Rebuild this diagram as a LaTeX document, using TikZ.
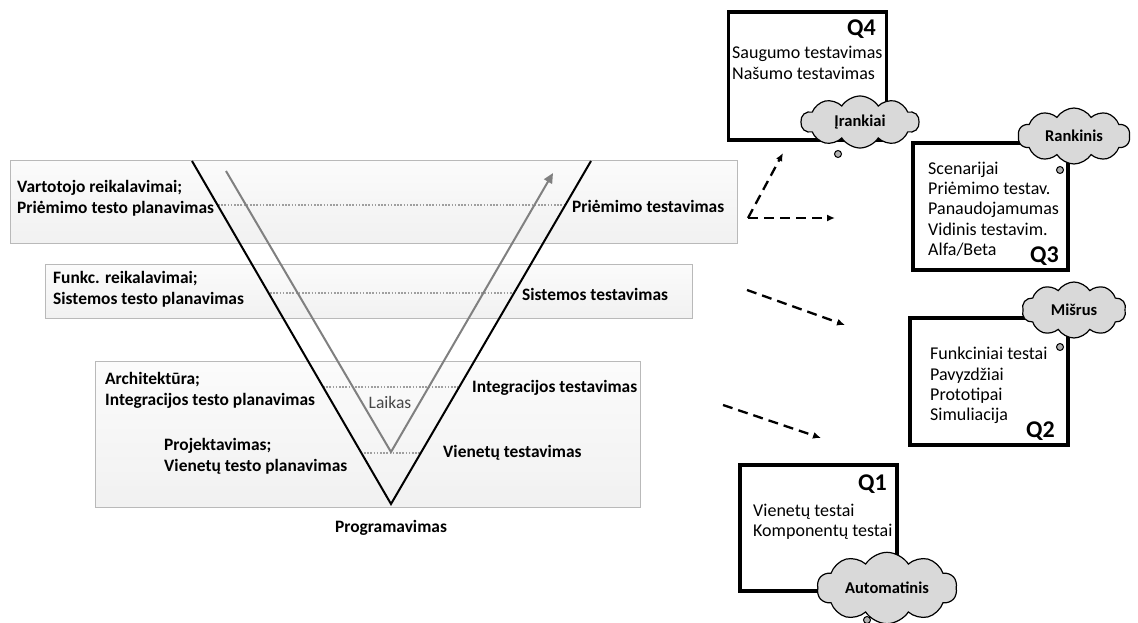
\documentclass[tikz,border=0pt]{standalone}
\usepackage{fontspec}
\setmainfont{Carlito}
\usetikzlibrary{arrows.meta,shapes.symbols}
\begin{document}
\begin{tikzpicture}[x=1pt,y=-1pt,
  band/.style={draw=gray!55, line width=0.8, top color=gray!3, bottom color=gray!11, inner sep=0, anchor=north west},
  lbl/.style={font=\bfseries\fontsize{17.4}{20.8}\selectfont, align=left, inner sep=0, anchor=west},
  boxtxt/.style={font=\fontsize{18}{20.3}\selectfont, align=left, inner sep=0, anchor=west},
  qlbl/.style={font=\bfseries\fontsize{24}{26}\selectfont, inner sep=0, anchor=east},
  quad/.style={draw=black, line width=3.5, fill=white, inner sep=0},
  bubble/.style={cloud, cloud puffs=10, cloud puff arc=115, aspect=2.2, draw=black, line width=1.2,
    fill=gray!30, inner sep=0, font=\bfseries\fontsize{16.5}{19}\selectfont},
  dot/.style={circle, draw=black, line width=1, fill=gray!60, minimum size=7, inner sep=0},
  guide/.style={draw=gray!75, line width=1.6, dash pattern=on 1.6pt off 1.6pt},
  vline/.style={draw=black, line width=2},
  timeline/.style={draw=gray, line width=2, -{Triangle[length=10pt,width=9pt]}},
  dasharrow/.style={draw=black, line width=2.3, dash pattern=on 10pt off 6pt, -{Latex[length=8pt,width=7pt]}}]
\useasboundingbox (0,0) rectangle (1138,623);

% phase bands
\node[band, minimum width=727, minimum height=83] (b1) at (10,160) {};
\node[band, minimum width=647, minimum height=54] (b2) at (45,264) {};
\node[band, minimum width=545, minimum height=146] (b3) at (95,361) {};

% dotted guides between planning and testing levels
\coordinate (g1a) at (218,205); \coordinate (g1b) at (566,205);
\coordinate (g2a) at (270,293); \coordinate (g2b) at (513,293);
\coordinate (g3a) at (323,387); \coordinate (g3b) at (458,387);
\coordinate (g4a) at (364,453); \coordinate (g4b) at (420,453);
\draw[guide] (g1a) -- (g1b);
\draw[guide] (g2a) -- (g2b);
\draw[guide] (g3a) -- (g3b);
\draw[guide] (g4a) -- (g4b);

% the V
\coordinate (vl) at (192,161);
\coordinate (vb) at (391,504);
\coordinate (vr) at (591,161);
\draw[vline] (vl) -- (vb) -- (vr);

% time arrow
\coordinate (tl) at (226,171);
\coordinate (tb) at (391,452);
\coordinate (tr) at (553,173);
\draw[timeline] (tl) -- (tb) -- (tr);

% left labels
\node[lbl] (l1) at (17,198) {Vartotojo reikalavimai;\\Priėmimo testo planavimas};
\node[lbl] (l2) at (53,289) {Funkc. reikalavimai;\\Sistemos testo planavimas};
\node[lbl] (l3) at (105,390) {Architektūra;\\Integracijos testo planavimas};
\node[lbl] (l4) at (164,456) {Projektavimas;\\Vienetų testo planavimas};

% right labels
\node[lbl] (r1) at (572,206) {Priėmimo testavimas};
\node[lbl] (r2) at (522,294) {Sistemos testavimas};
\node[lbl] (r3) at (472,388) {Integracijos testavimas};
\node[lbl] (r4) at (443,453) {Vienetų testavimas};
\node[lbl, anchor=center] (prog) at (391,528) {Programavimas};
\node[font=\fontsize{17.5}{20}\selectfont, text=black!72, inner sep=0] (laikas) at (390,402) {Laikas};

% quadrants
\node[quad, minimum width=158, minimum height=128] (q4) at (807.5,76) {};
\node[quad, minimum width=155, minimum height=127] (q3) at (990.5,206.5) {};
\node[quad, minimum width=158, minimum height=127] (q2) at (989,381.5) {};
\node[quad, minimum width=157, minimum height=126] (q1) at (818.5,528) {};

\node[qlbl] (q4l) at (876,29) {Q4};
\node[qlbl] (q3l) at (1059,256) {Q3};
\node[qlbl] (q2l) at (1055,431) {Q2};
\node[qlbl] (q1l) at (887,484) {Q1};

\node[boxtxt] (q4t) at (732,63) {Saugumo testavimas\\Našumo testavimas};
\node[boxtxt] (q3t) at (928,209) {Scenarijai\\Priėmimo testav.\\Panaudojamumas\\Vidinis testavim.\\Alfa/Beta};
\node[boxtxt] (q2t) at (930,385.5) {Funkciniai testai\\Pavyzdžiai\\Prototipai\\Simuliacija};
\node[boxtxt] (q1t) at (753,522) {Vienetų testai\\Komponentų testai};

% thought clouds on the box corners
\node[bubble, minimum width=118, minimum height=52] (c4) at (860,122) {Įrankiai};
\node[dot] (c4d) at (838,154) {};
\node[bubble, minimum width=112, minimum height=56] (c3) at (1074,136) {Rankinis};
\node[dot] (c3d) at (1060,170) {};
\node[bubble, minimum width=104, minimum height=56] (c2) at (1074,310) {Mišrus};
\node[dot] (c2d) at (1060,347) {};
\node[bubble, minimum width=140, minimum height=44] (c1) at (887,588) {Automatinis};
\node[dot] (c1d) at (867,620) {};

% dashed arrows towards the quadrants
\coordinate (d1) at (748,218);
\coordinate (d1u) at (783,153);
\coordinate (d1r) at (835,218);
\coordinate (d2a) at (747,290);
\coordinate (d2b) at (845,325);
\coordinate (d3a) at (723,405);
\coordinate (d3b) at (821,438);
\draw[dasharrow] (d1) -- (d1u);
\draw[dasharrow] (d1) -- (d1r);
\draw[dasharrow] (d2a) -- (d2b);
\draw[dasharrow] (d3a) -- (d3b);
\end{tikzpicture}
\end{document}
